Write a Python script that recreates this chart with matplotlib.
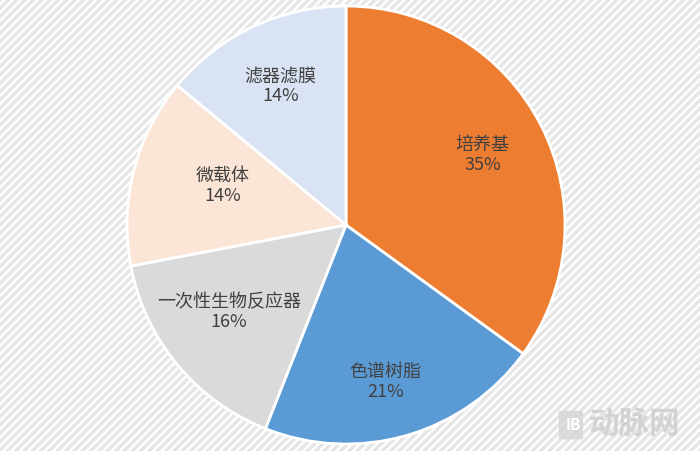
import matplotlib
matplotlib.use("Agg")
import numpy as np
import matplotlib.pyplot as plt
from matplotlib.patches import Rectangle, FancyBboxPatch

plt.rcParams['font.family'] = ['Noto Sans CJK SC', 'DejaVu Sans']
plt.rcParams['hatch.linewidth'] = 2.5
plt.rcParams['hatch.color'] = "#E9E9E9"

labels = ["培养基", "色谱树脂", "一次性生物反应器", "微载体", "滤器滤膜"]
values = [35, 21, 16, 14, 14]
colors = ["#ED7D31", "#5B9BD5", "#DADADA", "#FBE5D6", "#DAE3F3"]
label_dist = [0.70, 0.74, 0.665, 0.59, 0.70]
label_angle_shift = [0, -2, -3, -3, 0]

W, H = 700, 451
fig = plt.figure(figsize=(W/100, H/100), dpi=100)
fig.patch.set_facecolor("#FFFFFF")
bg = Rectangle((0, 0), 1, 1, transform=fig.transFigure, facecolor="#FFFFFF",
               edgecolor="#E6E6E6", hatch="////", linewidth=0, zorder=-10)
fig.patches.append(bg)

cx, cy, r = 346, 225, 219
ax = fig.add_axes([(cx - r)/W, (H - cy - r)/H, 2*r/W, 2*r/H])
ax.set_facecolor("none")
wedges, _ = ax.pie(values, colors=colors, startangle=90, counterclock=False,
                   radius=1, wedgeprops=dict(edgecolor="white", linewidth=2))
for w, l, v, d, s in zip(wedges, labels, values, label_dist, label_angle_shift):
    ang = np.deg2rad((w.theta1 + w.theta2) / 2 + s)
    ax.text(d*np.cos(ang), d*np.sin(ang), f"{l}\n{v}%", ha="center", va="center",
            fontsize=13, color="#404040", linespacing=1.15)
ax.set_xlim(-1, 1)
ax.set_ylim(-1, 1)
ax.set_aspect("equal")
ax.axis("off")

# watermark
fig.text(634/W, 1 - 425/H, "动脉网", fontsize=22, color="#D0D0D0", ha="center", va="center",
         fontweight="bold", alpha=0.9)
logo = FancyBboxPatch((561/W, 1 - 438/H), 20/W, 26/H, boxstyle="round,pad=0.003",
                      transform=fig.transFigure, facecolor="#D8D8D8", edgecolor="none", alpha=0.9)
fig.patches.append(logo)
fig.text(573/W, 1 - 425/H, "IB", fontsize=11, color="white", ha="center", va="center",
         fontweight="bold")

fig.savefig("out.png", dpi=100)
